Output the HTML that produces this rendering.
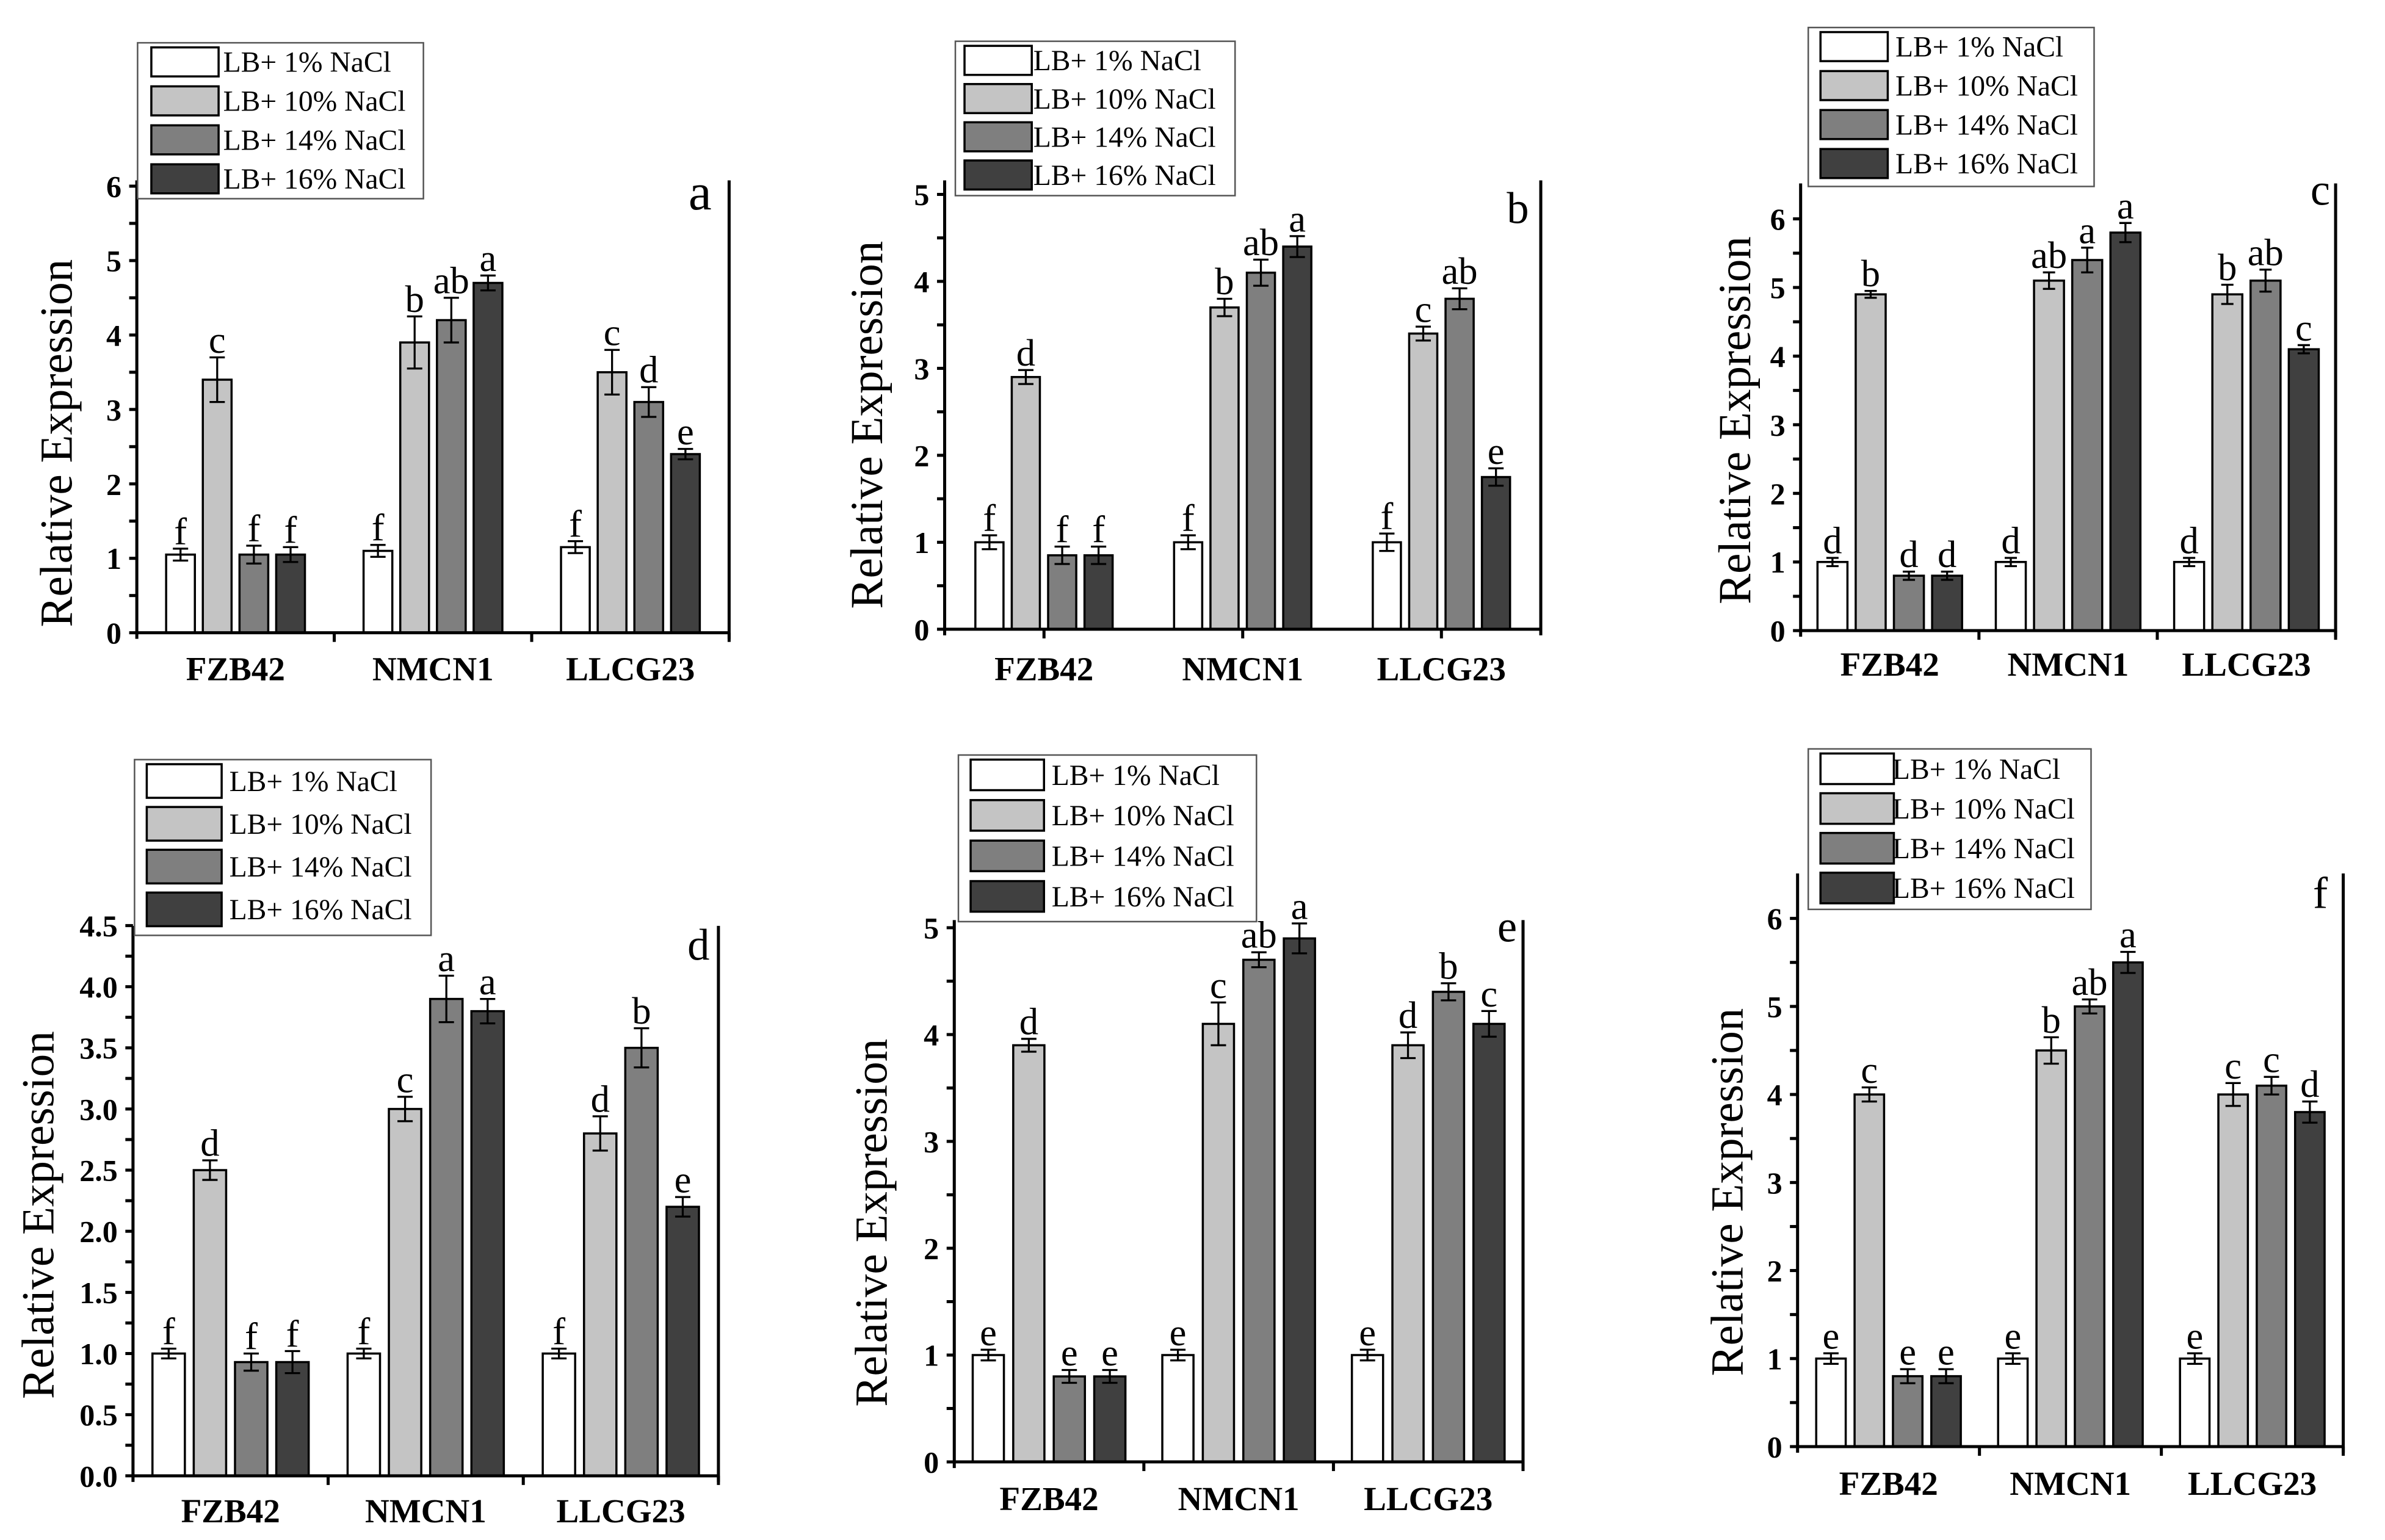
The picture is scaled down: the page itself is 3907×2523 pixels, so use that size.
<!DOCTYPE html>
<html><head><meta charset="utf-8"><style>
html,body{margin:0;padding:0;background:#fff;}
svg{display:block;}
text{font-family:"Liberation Serif",serif;fill:#000;}
</style></head><body>
<svg id="chart" width="3907" height="2523" viewBox="0 0 1560.3 1007.6" xmlns="http://www.w3.org/2000/svg"></svg>
<script>
const categories = ["FZB42","NMCN1","LLCG23"];
const seriesNames = ["LB+ 1% NaCl","LB+ 10% NaCl","LB+ 14% NaCl","LB+ 16% NaCl"];
const panelIds = ["a","b","c","d","e","f"];
const valuesA = [[1.05,3.4,1.05,1.05],[1.1,3.9,4.2,4.7],[1.15,3.5,3.1,2.4]];
const errorsA = [[0.08,0.3,0.12,0.1],[0.08,0.35,0.3,0.1],[0.08,0.3,0.2,0.07]];
const lettersA = [["f","c","f","f"],["f","b","ab","a"],["f","c","d","e"]];
const valuesB = [[1.0,2.9,0.85,0.85],[1.0,3.7,4.1,4.4],[1.0,3.4,3.8,1.75]];
const errorsB = [[0.08,0.08,0.1,0.1],[0.08,0.1,0.15,0.12],[0.1,0.08,0.12,0.1]];
const lettersB = [["f","d","f","f"],["f","b","ab","a"],["f","c","ab","e"]];
const valuesC = [[1.0,4.9,0.8,0.8],[1.0,5.1,5.4,5.8],[1.0,4.9,5.1,4.1]];
const errorsC = [[0.06,0.05,0.06,0.06],[0.06,0.12,0.18,0.14],[0.06,0.14,0.16,0.06]];
const lettersC = [["d","b","d","d"],["d","ab","a","a"],["d","b","ab","c"]];
const valuesD = [[1.0,2.5,0.93,0.93],[1.0,3.0,3.9,3.8],[1.0,2.8,3.5,2.2]];
const errorsD = [[0.04,0.08,0.07,0.09],[0.04,0.1,0.19,0.1],[0.04,0.14,0.16,0.08]];
const lettersD = [["f","d","f","f"],["f","c","a","a"],["f","d","b","e"]];
const valuesE = [[1.0,3.9,0.8,0.8],[1.0,4.1,4.7,4.9],[1.0,3.9,4.4,4.1]];
const errorsE = [[0.05,0.06,0.06,0.06],[0.05,0.2,0.07,0.14],[0.05,0.12,0.08,0.12]];
const lettersE = [["e","d","e","e"],["e","c","ab","a"],["e","d","b","c"]];
const valuesF = [[1.0,4.0,0.8,0.8],[1.0,4.5,5.0,5.5],[1.0,4.0,4.1,3.8]];
const errorsF = [[0.06,0.08,0.08,0.08],[0.06,0.15,0.08,0.12],[0.06,0.13,0.1,0.12]];
const lettersF = [["e","c","e","e"],["e","b","ab","a"],["e","c","c","d"]];
const tickLabelsA = ["0","1","2","3","4","5","6"];
const tickLabelsB = ["0","1","2","3","4","5"];
const tickLabelsC = ["0","1","2","3","4","5","6"];
const tickLabelsD = ["0.0","0.5","1.0","1.5","2.0","2.5","3.0","3.5","4.0","4.5"];
const tickLabelsE = ["0","1","2","3","4","5"];
const tickLabelsF = ["0","1","2","3","4","5","6"];

const fills = ["#ffffff","#c4c4c4","#7f7f7f","#404040"];
const NS = "http://www.w3.org/2000/svg";
const svg = document.getElementById("chart");
function mk(tag, attrs, parent, txt){
  const e = document.createElementNS(NS, tag);
  for (const k in attrs) e.setAttribute(k, attrs[k]);
  if (txt !== undefined) e.textContent = txt;
  (parent || svg).appendChild(e);
  return e;
}
const layouts = [
  {x0:89.5,xr:477,y0:414,unit:48.7,top:118,step:1,minor:0.5,bw:18.8,pitch:24,xsep:"sep",xlY:445,
   leg:[90,28,187,102,99,44,19,25.5,146],letter:[458,137,34],title:[37,290],vals:valuesA,errs:errorsA,lets:lettersA,ticks:tickLabelsA,cap:5},
  {x0:618,xr:1008,y0:411.7,unit:56.9,top:118,step:1,minor:0.5,bw:18.4,pitch:23.8,xsep:"center",xlY:445,
   leg:[625,27,183,101,631,44,19,25,676],letter:[993,146,29],title:[567,278],vals:valuesB,errs:errorsB,lets:lettersB,ticks:tickLabelsB,cap:5},
  {x0:1178,xr:1528,y0:412.6,unit:44.9,top:120,step:1,minor:0.5,bw:19.6,pitch:25,xsep:"sep",xlY:442,
   leg:[1183,18,187,104,1191,44,19,25.5,1240],letter:[1518,134,29],title:[1135,275],vals:valuesC,errs:errorsC,lets:lettersC,ticks:tickLabelsC,cap:4},
  {x0:87,xr:470,y0:965.6,unit:80,top:605.8,step:0.5,minor:0.25,bw:21.2,pitch:27,xsep:"sep",xlY:996,
   leg:[88,497,194,115,96,49,22,28,150],letter:[457,628,29],title:[25,795],vals:valuesD,errs:errorsD,lets:lettersD,ticks:tickLabelsD,cap:5},
  {x0:624.3,xr:996.4,y0:956.5,unit:69.9,top:602,step:1,minor:0.5,bw:20.4,pitch:26.5,xsep:"sep",xlY:988,
   leg:[627,494,195,109,635,48,20,26.5,688],letter:[986,616,29],title:[570,800],vals:valuesE,errs:errorsE,lets:lettersE,ticks:tickLabelsE,cap:5},
  {x0:1176,xr:1533,y0:946.5,unit:57.6,top:571.5,step:1,minor:0.5,bw:19.3,pitch:25.1,xsep:"sep",xlY:978,
   leg:[1183,490,185,105,1191,48,20,26,1238],letter:[1518,594,29],title:[1130,780],vals:valuesF,errs:errorsF,lets:lettersF,ticks:tickLabelsF,cap:5}
];

layouts.forEach((L, pi) => {
  const g = mk("g", {});
  
  
  const yS = v => L.y0 - v * L.unit;
  const gw = (L.xr - L.x0) / 3;
  const gc = i => L.x0 + gw * (i + 0.5);
  L.vals.forEach((grp, ci) => {
    grp.forEach((v, si) => {
      const cx = gc(ci) + (si - 1.5) * L.pitch;
      const r = mk("rect", {x: cx - L.bw/2, y: yS(v), width: L.bw, height: L.y0 - yS(v), fill: fills[si], stroke: "#000", "stroke-width": 1.4}, g);
      
      
      const e = L.errs[ci][si];
      const eb = mk("path", {d: `M${cx},${yS(v+e)}V${yS(v-e)}M${cx-L.cap},${yS(v+e)}H${cx+L.cap}M${cx-L.cap},${yS(v-e)}H${cx+L.cap}`, stroke: "#000", "stroke-width": 1.3, fill: "none"}, g);
      
      
      const t = mk("text", {x: cx, y: yS(v+e) - 3, "text-anchor": "middle", "font-size": 25}, g, L.lets[ci][si]);
      
      
    });
  });
  const ax = mk("path", {d: `M${L.x0},${L.top}V${L.y0+4}M${L.x0},${L.y0}H${L.xr}M${L.xr},${L.top}V${L.y0+4}`, stroke: "#000", "stroke-width": 2, fill: "none"}, g);
  
  
  const ymaxLab = (L.ticks.length - 1) * L.step;
  for (let v = 0; v <= ymaxLab + 1e-6; v += L.minor) {
    mk("line", {x1: L.x0 - 5, x2: L.x0, y1: yS(v), y2: yS(v), stroke: "#000", "stroke-width": 2}, g);
  }
  L.ticks.forEach((lab, i) => {
    const t = mk("text", {x: L.x0 - 10, y: yS(i * L.step) + 7, "text-anchor": "end", "font-size": 20, "font-weight": "bold"}, g, lab);
    
    
  });
  for (let i = 0; i < 3; i++) {
    const xt = L.xsep === "center" ? gc(i) : L.x0 + gw * (i + 1);
    mk("line", {x1: xt, x2: xt, y1: L.y0, y2: L.y0 + 6, stroke: "#000", "stroke-width": 2}, g);
    const t = mk("text", {x: gc(i), y: L.xlY, "text-anchor": "middle", "font-size": 22, "font-weight": "bold"}, g, categories[i]);
    
    
  }
  const yt = mk("text", {x: 0, y: 0, transform: `translate(${L.title[0]+10},${L.title[1]}) rotate(-90)`, "text-anchor": "middle", "font-size": 30}, g, "Relative Expression");
  
  
  const pl = mk("text", {x: L.letter[0], y: L.letter[1], "text-anchor": "middle", "font-size": L.letter[2]}, g, panelIds[pi]);
  
  
  const [lx, ly, lw, lh, sx, sw, sh, rowH, tx] = L.leg;
  const lg = mk("g", {}, g);
  
  
  mk("rect", {x: lx, y: ly, width: lw, height: lh, fill: "#fff", stroke: "#555", "stroke-width": 1}, lg);
  seriesNames.forEach((nm, si) => {
    const ry = ly + 3 + si * rowH;
    const en = mk("g", {}, lg);
    
    
    mk("rect", {x: sx, y: ry, width: sw, height: sh, fill: fills[si], stroke: "#000", "stroke-width": 1.4}, en);
    mk("text", {x: tx, y: ry + sh/2 + 6.5, "font-size": 19}, en, nm);
  });
});
</script>
</body></html>
